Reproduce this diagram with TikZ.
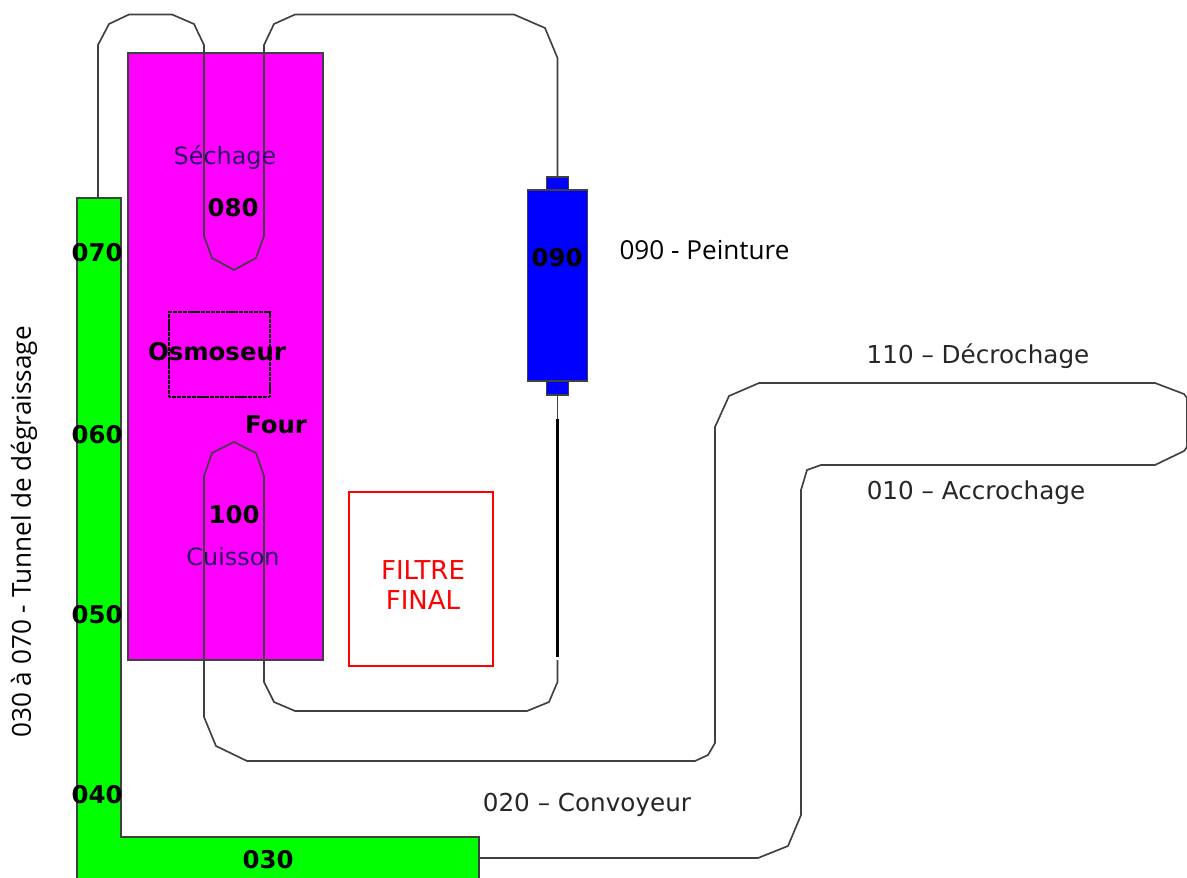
\documentclass[tikz,border=0pt]{standalone}
\usepackage{fontspec}
\setmainfont{DejaVu Sans}
\newfontfamily\notefont{Open Sans}
\usetikzlibrary{positioning}
\definecolor{linegrey}{HTML}{404040}
\definecolor{ovenmagenta}{HTML}{FF00FF}
\definecolor{tunnelgreen}{HTML}{00FF00}
\definecolor{paintblue}{HTML}{0000FF}
\definecolor{textpurple}{HTML}{2A0A60}
\def\u{0.75pt}

\begin{document}
\begin{tikzpicture}[
    x=\u, y=-\u,
    box/.style={rectangle, draw=linegrey, line width=1.2pt, inner sep=0pt, outer sep=0pt},
    ovenbox/.style={box, fill=ovenmagenta},
    paintbox/.style={box, fill=paintblue},
    tunnelbox/.style={draw=linegrey, line width=1.2pt, fill=tunnelgreen},
    filterbox/.style={box, draw=red},
    osmobox/.style={box, draw=black, dash pattern=on 1.6pt off 0.3pt},
    conveyor/.style={draw=linegrey, line width=1.25pt},
    codelabel/.style={font=\bfseries\fontsize{18.3}{20}\selectfont, text=black, inner sep=0pt},
    zonelabel/.style={font=\fontsize{17.9}{20}\selectfont, text=textpurple, inner sep=0pt},
    steplabel/.style={font=\fontsize{18.5}{20}\selectfont, text=black!85, inner sep=0pt},
    filterlabel/.style={align=center, text=red, inner sep=0pt, font=\fontsize{19.5}{22.5}\selectfont},
    notelabel/.style={font=\notefont\fontsize{19.6}{22}\selectfont, text=black, inner sep=0pt}
]
\useasboundingbox (0,0) rectangle (1187,877);

% Boxes
\node[ovenbox, minimum width=195*\u, minimum height=607*\u] (oven) at (225.5,356.5) {};
\node[osmobox, minimum width=101*\u, minimum height=85*\u] (osmo) at (219.5,354.5) {};
\node[filterbox, minimum width=144*\u, minimum height=174*\u] (filter) at (421,579) {};
\node[paintbox, minimum width=60*\u, minimum height=191*\u] (paint) at (557.5,285.5) {};
\node[paintbox, minimum width=22*\u, minimum height=13*\u, above=0pt of paint] (capin) {};
\node[paintbox, minimum width=22*\u, minimum height=14*\u, below=0pt of paint] (capout) {};

% Tunnel
\draw[tunnelbox] (77,882) -- (77,198) -- (121,198) -- (121,837) -- (479,837) -- (479,882);
\coordinate (tunneltop) at (98,198);
\coordinate (tunnelend) at (479,858);

% Conveyor, tunnel to paint
\draw[conveyor] (tunneltop) -- (98,45) -- (109,24) -- (129,14.5) -- (172,14.5) -- (194,24) -- (204,45)
    -- (204,236) -- (212,258) -- (234,270) -- (256,258) -- (264,236) -- (264,45) -- (274,24) -- (295,14.5)
    -- (514,14.5) -- (545,28) -- (557.5,58) -- (capin.north);

% Conveyor, paint to hanging
\coordinate (stemtop) at (557.5,419);
\coordinate (stemend) at (557.5,657);
\draw[conveyor] (capout.south) -- (stemtop);
\draw[conveyor, draw=black, line width=1.9pt] (stemtop) -- (stemend);
\draw[conveyor] (557.5,660) -- (557.5,682) -- (549,702) -- (527,711) -- (295,711) -- (274,702) -- (264,682)
    -- (264,476) -- (256,453) -- (234,442) -- (212,453) -- (204,476) -- (204,717) -- (216,746) -- (247,761)
    -- (695,761) -- (708,755) -- (715,743) -- (715,427) -- (729,396) -- (759,383) -- (1155,383) -- (1184,394)
    -- (1187,398) -- (1187,447) -- (1184,451) -- (1155,465) -- (821,465) -- (807,470) -- (801,490)
    -- (801,815) -- (788,846) -- (758,858) -- (tunnelend);

% Codes
\node[codelabel] (c070) at (97,253) {070};
\node[codelabel] (c060) at (97,435) {060};
\node[codelabel] (c050) at (97,615) {050};
\node[codelabel] (c040) at (97,795) {040};
\node[codelabel] (c030) at (268,860) {030};
\node[codelabel] (c080) at (233,208) {080};
\node[codelabel] (c100) at (234,515) {100};
\node[codelabel] (c090) at (557,258) {090};
\node[codelabel] (osmotext) at (217,352) {Osmoseur};
\node[codelabel] (fourtext) at (276,425) {Four};

% Zones
\node[zonelabel] (drying) at (225,157) {Séchage};
\node[zonelabel] (baking) at (233,557) {Cuisson};
\node[filterlabel] (filtertext) at (423,585) {FILTRE\\FINAL};

% Outer labels
\node[steplabel] (unload) at (978,356) {110 – Décrochage};
\node[steplabel] (load) at (976,493) {010 – Accrochage};
\node[steplabel] (belt) at (587,805) {020 – Convoyeur};
\node[notelabel] (painting) at (704.5,250) {090 - Peinture};
\node[notelabel, rotate=90] (tunnelnote) at (24,532) {030 à 070 - Tunnel de dégraissage};

\end{tikzpicture}
\end{document}
